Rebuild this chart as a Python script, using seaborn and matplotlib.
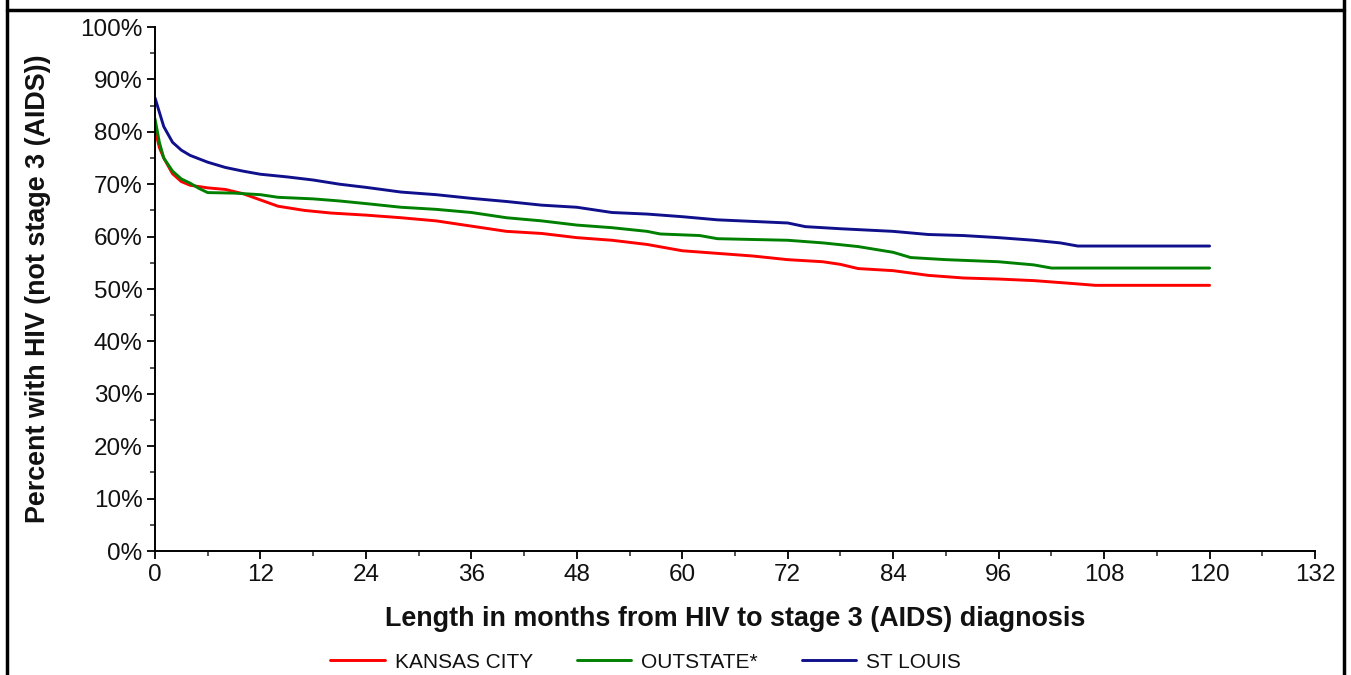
import numpy as np
import pandas as pd
import matplotlib
matplotlib.use("Agg")
import matplotlib.pyplot as plt
import seaborn as sns
from matplotlib.ticker import MultipleLocator, FuncFormatter
from matplotlib.lines import Line2D

# ---- data (months, percent not stage 3) ----
kc_months = [0, 0.5, 1, 2, 3, 4, 6, 8, 10, 12, 14, 17, 20, 24, 28, 32, 36, 40, 44, 48,
             52, 56, 60, 64, 68, 72, 76, 78, 80, 84, 88, 92, 96, 100, 104, 107, 120]
kc_pct = [80.5, 77, 75, 72, 70.5, 69.8, 69.3, 69.0, 68.2, 67.0, 65.8, 65.0, 64.5, 64.1, 63.6,
          63.0, 62.0, 61.0, 60.6, 59.8, 59.3, 58.5, 57.3, 56.8, 56.3, 55.6, 55.2, 54.7, 53.9,
          53.5, 52.6, 52.1, 51.9, 51.6, 51.1, 50.7, 50.7]

out_months = [0, 0.5, 1, 2, 3, 4, 5, 6, 9, 12, 14, 18, 21, 24, 28, 32, 36, 40, 44, 48, 52,
              56, 57.5, 62, 64, 72, 76, 80, 84, 86, 90, 96, 100, 102, 120]
out_pct = [82.5, 78, 75, 72.5, 71, 70.2, 69.2, 68.4, 68.3, 68.0, 67.5, 67.2, 66.8, 66.3, 65.6,
           65.2, 64.6, 63.6, 63.0, 62.2, 61.7, 61.0, 60.5, 60.2, 59.6, 59.3, 58.8, 58.1, 57.0,
           56.0, 55.6, 55.2, 54.6, 54.0, 54.0]

stl_months = [0, 1, 2, 3, 4, 6, 8, 10, 12, 15, 18, 21, 24, 28, 32, 36, 40, 44, 48, 52, 56,
              60, 64, 68, 72, 74, 78, 84, 88, 92, 96, 100, 103, 105, 120]
stl_pct = [86.5, 81, 78, 76.5, 75.5, 74.2, 73.2, 72.5, 71.9, 71.4, 70.8, 70.0, 69.4, 68.5, 68.0,
           67.3, 66.7, 66.0, 65.6, 64.6, 64.3, 63.8, 63.2, 62.9, 62.6, 61.9, 61.5, 61.0, 60.4,
           60.2, 59.8, 59.3, 58.8, 58.2, 58.2]

groups = ["KANSAS CITY", "OUTSTATE*", "ST LOUIS"]
colors = ["#ff0000", "#008000", "#10108c"]

df = pd.concat([
    pd.DataFrame({"month": kc_months, "pct": kc_pct, "group": groups[0]}),
    pd.DataFrame({"month": out_months, "pct": out_pct, "group": groups[1]}),
    pd.DataFrame({"month": stl_months, "pct": stl_pct, "group": groups[2]}),
])

sns.set_style("ticks")
plt.rcParams["font.family"] = ["Liberation Sans", "DejaVu Sans"]

fig = plt.figure(figsize=(13.51, 6.75), dpi=100)
ax = fig.add_axes([0.1147, 0.1837, 0.8587, 0.7763])

sns.lineplot(data=df, x="month", y="pct", hue="group", palette=dict(zip(groups, colors)),
             sort=False, estimator=None, linewidth=2.1, legend=False, ax=ax)

ax.set_xlim(0, 132)
ax.set_ylim(0, 100)
ax.xaxis.set_major_locator(MultipleLocator(12))
ax.xaxis.set_minor_locator(MultipleLocator(6))
ax.yaxis.set_major_locator(MultipleLocator(10))
ax.yaxis.set_minor_locator(MultipleLocator(5))
ax.yaxis.set_major_formatter(FuncFormatter(lambda v, p: f"{int(round(v))}%"))

ax.tick_params(axis="both", which="major", length=6, width=1.3, color="black",
               labelsize=17.5, labelcolor="#111111", pad=3, direction="out")
ax.tick_params(axis="both", which="minor", length=3.5, width=1.2, color="#333333", direction="out")

for s in ["top", "right"]:
    ax.spines[s].set_visible(False)
for s in ["left", "bottom"]:
    ax.spines[s].set_linewidth(1.4)
    ax.spines[s].set_color("black")

ax.set_xlabel("Length in months from HIV to stage 3 (AIDS) diagnosis",
              fontsize=19.4, fontweight="bold", labelpad=15, color="#111111")
ax.set_ylabel("Percent with HIV (not stage 3 (AIDS))",
              fontsize=19.4, fontweight="bold", labelpad=21, color="#111111")

handles = [Line2D([0], [0], color=c, lw=2.1) for c in colors]
fig.legend(handles, groups, loc="center", bbox_to_anchor=(0.478, 0.019), ncol=3,
           frameon=False, fontsize=15, handlelength=2.6, columnspacing=2.1,
           handletextpad=0.5, labelcolor="#111111")

# outer frame
frame_kw = dict(color="black", lw=2.5, transform=fig.transFigure, clip_on=False)
fig.add_artist(Line2D([0.0052, 0.0052], [0, 1], **frame_kw))
fig.add_artist(Line2D([0.9948, 0.9948], [0, 1], **frame_kw))
fig.add_artist(Line2D([0.0052, 0.9948], [0.9852, 0.9852], **frame_kw))

fig.savefig("out.png", dpi=100, facecolor="white")
